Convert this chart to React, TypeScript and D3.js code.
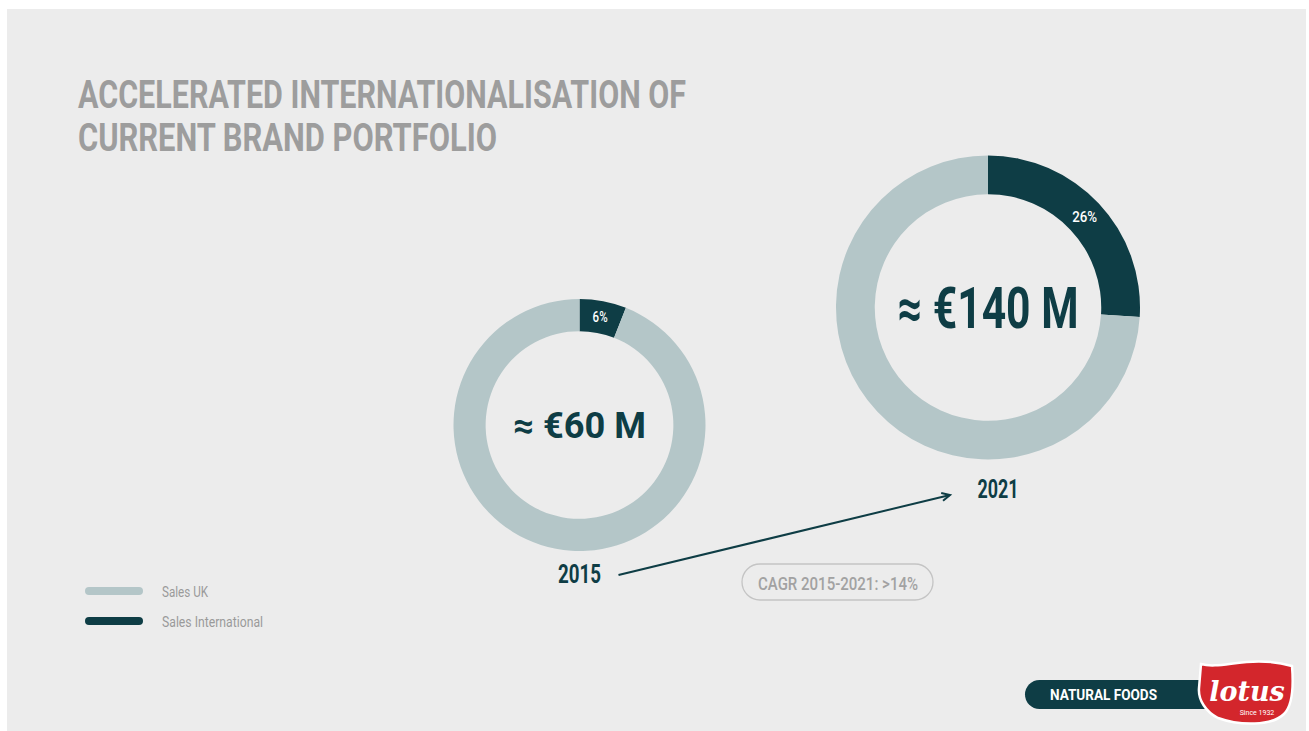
import React, { useEffect, useRef } from 'react';
import * as d3 from 'd3';

// chart data
const years = [2015, 2021];
const totals = [60, 140]; // € M
const totalLabels = ['≈ €60 M', '≈ €140 M'];
const intlShare = [6, 26]; // % sales international
const seriesNames = ['Sales UK', 'Sales International'];
const seriesColors = ['#b4c6c8', '#0e3d45'];
const titleLines = ['ACCELERATED INTERNATIONALISATION OF', 'CURRENT BRAND PORTFOLIO'];
const cagrLabel = 'CAGR 2015-2021: >14%';

const W = 1309;
const H = 731;
const FONT = 'Roboto, "DejaVu Sans Condensed", sans-serif';

export default function App() {
    const svgRef = useRef<SVGSVGElement>(null);

    useEffect(() => {
        const svg = d3.select(svgRef.current);
        svg.selectAll('*').remove();

        // page + grey panel
        svg.append('rect').attr('width', W).attr('height', H).attr('fill', '#ffffff');
        svg.append('rect')
            .attr('x', 7).attr('y', 9)
            .attr('width', W - 10).attr('height', H - 9)
            .attr('fill', '#ececec');

        // title
        const titleWidths = [608, 419];
        svg.append('g')
            .selectAll('text')
            .data(titleLines)
            .enter()
            .append('text')
            .attr('x', 78)
            .attr('y', (d, i) => 108 + i * 43)
            .attr('textLength', (d, i) => titleWidths[i])
            .attr('lengthAdjust', 'spacingAndGlyphs')
            .style('font-family', FONT)
            .style('font-weight', 700)
            .style('font-size', '39px')
            .attr('fill', '#9d9d9d')
            .text(d => d);

        // layout scales: donut centre moves with the year, radius with the total
        const x = d3.scaleLinear().domain([2015, 2021]).range([579.5, 988]);
        const y = d3.scaleLinear().domain([2015, 2021]).range([425, 307.5]);
        const r = d3.scaleLinear().domain([60, 140]).range([126, 152]);

        const color = d3.scaleOrdinal<string, string>().domain(seriesNames).range(seriesColors);

        const pie = d3.pie<{ key: string; value: number }>()
            .sort(null)
            .value(d => d.value);

        const donuts = years.map((yr, i) => ({
            year: yr,
            total: totals[i],
            label: totalLabels[i],
            slices: [
                { key: 'Sales International', value: intlShare[i] },
                { key: 'Sales UK', value: 100 - intlShare[i] },
            ],
        }));

        const labelWidths = [133, 181];
        const labelSizes = [36, 58];
        const pctWidths = [15, 25];
        const yearWidths = [43, 41];
        const yearDx = [0, 10];
        const yearDy = [32, 38];

        donuts.forEach((d, i) => {
            const outer = r(d.total);
            const inner = outer * 0.745;
            const arc = d3.arc<d3.PieArcDatum<{ key: string; value: number }>>()
                .innerRadius(inner)
                .outerRadius(outer);

            const g = svg.append('g')
                .attr('transform', `translate(${x(d.year)},${y(d.year)})`);

            const arcs = pie(d.slices);

            g.selectAll('path')
                .data(arcs)
                .enter()
                .append('path')
                .attr('d', arc)
                .attr('fill', a => color(a.data.key));

            // percentage label on the international slice
            g.selectAll('text.pct')
                .data(arcs.filter(a => a.data.key === 'Sales International'))
                .enter()
                .append('text')
                .attr('class', 'pct')
                .attr('x', a => arc.centroid(a)[0])
                .attr('y', a => arc.centroid(a)[1] + 5)
                .attr('text-anchor', 'middle')
                .attr('textLength', pctWidths[i])
                .attr('lengthAdjust', 'spacingAndGlyphs')
                .style('font-family', FONT)
                .style('font-weight', 500)
                .style('font-size', '14px')
                .attr('fill', '#ffffff')
                .text(a => `${a.data.value}%`);

            // total in the middle
            g.append('text')
                .attr('x', 0)
                .attr('y', labelSizes[i] * 0.36)
                .attr('text-anchor', 'middle')
                .attr('textLength', labelWidths[i])
                .attr('lengthAdjust', 'spacingAndGlyphs')
                .style('font-family', FONT)
                .style('font-weight', 700)
                .style('font-size', `${labelSizes[i]}px`)
                .attr('fill', '#0e3d45')
                .text(d.label);

            // year under the donut
            g.append('text')
                .attr('x', yearDx[i])
                .attr('y', outer + yearDy[i])
                .attr('text-anchor', 'middle')
                .attr('textLength', yearWidths[i])
                .attr('lengthAdjust', 'spacingAndGlyphs')
                .style('font-family', FONT)
                .style('font-weight', 700)
                .style('font-size', '25px')
                .attr('fill', '#0e3d45')
                .text(d.year);
        });

        // growth arrow from 2015 to 2021
        const x0 = x(2015) + 39, y0 = y(2015) + 150;
        const x1 = x(2021) - 38, y1 = y(2021) + 187.5;
        svg.append('line')
            .attr('x1', x0).attr('y1', y0)
            .attr('x2', x1).attr('y2', y1)
            .attr('stroke', '#0e3d45')
            .attr('stroke-width', 2);
        const ang = Math.atan2(y1 - y0, x1 - x0);
        const head = 9;
        svg.append('path')
            .attr('d', d3.line()([
                [x1 - head * Math.cos(ang - 0.45), y1 - head * Math.sin(ang - 0.45)],
                [x1, y1],
                [x1 - head * Math.cos(ang + 0.45), y1 - head * Math.sin(ang + 0.45)],
            ]))
            .attr('fill', 'none')
            .attr('stroke', '#0e3d45')
            .attr('stroke-width', 2);

        // CAGR pill
        svg.append('rect')
            .attr('x', 742).attr('y', 564)
            .attr('width', 191).attr('height', 36)
            .attr('rx', 18)
            .attr('fill', 'none')
            .attr('stroke', '#c4c4c4')
            .attr('stroke-width', 1.3);
        svg.append('text')
            .attr('x', 838).attr('y', 590)
            .attr('text-anchor', 'middle')
            .attr('textLength', 160)
            .attr('lengthAdjust', 'spacingAndGlyphs')
            .style('font-family', FONT)
            .style('font-weight', 500)
            .style('font-size', '19px')
            .attr('fill', '#a2a2a2')
            .text(cagrLabel);

        // legend
        const legend = svg.append('g').attr('transform', 'translate(85,587)');
        const legendSpacing = 30;
        const legendWidths = [46, 101];
        legend.selectAll('rect')
            .data(seriesNames)
            .enter()
            .append('rect')
            .attr('x', 0)
            .attr('y', (d, i) => i * legendSpacing)
            .attr('width', 58)
            .attr('height', 8)
            .attr('rx', 4)
            .attr('fill', d => color(d));
        legend.selectAll('text')
            .data(seriesNames)
            .enter()
            .append('text')
            .attr('x', 77)
            .attr('y', (d, i) => i * legendSpacing + 10)
            .attr('textLength', (d, i) => legendWidths[i])
            .attr('lengthAdjust', 'spacingAndGlyphs')
            .style('font-family', FONT)
            .style('font-size', '15px')
            .attr('fill', '#9a9a9a')
            .text(d => d);

        // logo
        const logo = svg.append('g');
        logo.append('rect')
            .attr('x', 1025).attr('y', 680)
            .attr('width', 200).attr('height', 29)
            .attr('rx', 14.5)
            .attr('fill', '#0e3d45');
        logo.append('text')
            .attr('x', 1050).attr('y', 700)
            .attr('textLength', 107)
            .attr('lengthAdjust', 'spacingAndGlyphs')
            .style('font-family', FONT)
            .style('font-weight', 700)
            .style('font-size', '15px')
            .attr('fill', '#ffffff')
            .text('NATURAL FOODS');
        logo.append('path')
            .attr('d', 'M1201,664 C1222,670 1250,654 1292,666 C1294,690 1292,706 1284,714 C1272,726 1240,726 1218,718 C1206,712 1198,700 1199,688 Z')
            .attr('fill', '#d3262c')
            .attr('stroke', '#ffffff')
            .attr('stroke-width', 2.5);
        logo.append('text')
            .attr('x', 1247).attr('y', 701)
            .attr('text-anchor', 'middle')
            .style('font-family', '"DejaVu Serif", serif')
            .style('font-style', 'italic')
            .style('font-weight', 700)
            .style('font-size', '27px')
            .attr('fill', '#ffffff')
            .text('lotus');
        logo.append('text')
            .attr('x', 1257).attr('y', 715)
            .attr('text-anchor', 'middle')
            .style('font-family', FONT)
            .style('font-size', '7px')
            .attr('fill', '#ffffff')
            .text('Since 1932');
    }, []);

    return (
        <svg
            ref={svgRef}
            width={W}
            height={H}
            style={{ position: 'fixed', left: 0, top: 0, display: 'block' }}
        />
    );
}
